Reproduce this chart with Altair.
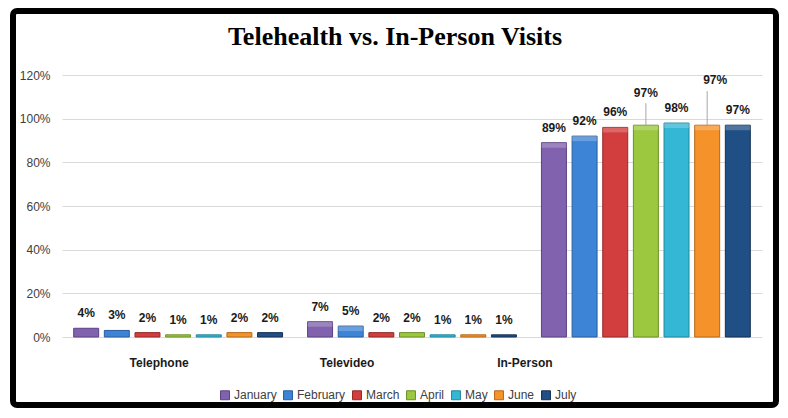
import altair as alt
import pandas as pd

# ---------------- data ----------------
categories = ["Telephone", "Televideo", "In-Person"]
months = ["January", "February", "March", "April", "May", "June", "July"]
telephone = [4, 3, 2, 1, 1, 2, 2]
televideo = [7, 5, 2, 2, 1, 1, 1]
in_person = [89, 92, 96, 97, 98, 97, 97]
y_ticks = [0, 0.2, 0.4, 0.6, 0.8, 1.0, 1.2]
chart_title = "Telehealth vs. In-Person Visits"

month_colors = ["#8162AE", "#3D84D6", "#D23D3D", "#9BC83F", "#33B7D4", "#F5922A", "#204F85"]
month_edges = ["#5B4283", "#285E9E", "#952929", "#6C8F27", "#22879D", "#B6681A", "#132F52"]

rows = []
for cat, vals in zip(categories, [telephone, televideo, in_person]):
    for m, v in zip(months, vals):
        rows.append({"category": cat, "month": m, "value": v / 100})
df = pd.DataFrame(rows)
cat_df = pd.DataFrame({"category": categories})
title_df = pd.DataFrame({"title": [chart_title]})
one_df = pd.DataFrame({"k": [0]})

FONT = "Liberation Sans, Arial, sans-serif"
W, H = 700, 262

x_enc = alt.X("category:N", sort=categories,
              scale=alt.Scale(paddingInner=0.107, paddingOuter=0.05), axis=None)
xo_enc = alt.XOffset("month:N", sort=months,
                     scale=alt.Scale(paddingInner=0.185, paddingOuter=0))
y_enc = alt.Y("value:Q", scale=alt.Scale(domain=[0, 1.2], nice=False),
              axis=alt.Axis(format=".0%", values=y_ticks, grid=True, domain=False,
                            ticks=False, tickSize=0, labelPadding=12, title=None,
                            labelFont=FONT, labelFontSize=12, labelColor="#404040",
                            gridColor="#D9D9D9", gridWidth=1))

base = alt.Chart(df)

bars = base.mark_bar(strokeWidth=1).encode(
    x=x_enc, xOffset=xo_enc, y=y_enc,
    color=alt.Color("month:N", sort=months,
                    scale=alt.Scale(domain=months, range=month_colors),
                    legend=alt.Legend(orient="none", legendX=157, legendY=314,
                                      direction="horizontal", title=None,
                                      symbolType="square", symbolSize=80,
                                      symbolStrokeWidth=1, labelFont=FONT,
                                      labelFontSize=12, labelColor="#404040",
                                      columnPadding=4, labelOffset=3)),
    stroke=alt.Stroke("month:N", sort=months,
                      scale=alt.Scale(domain=months, range=month_edges), legend=None),
)

highlight = base.transform_filter("datum.value >= 0.05").mark_bar(
    color="white", opacity=0.22, y2Offset=5
).encode(x=x_enc, xOffset=xo_enc, y=alt.Y("value:Q"), y2="value:Q")

is_april = "datum.category === 'In-Person' && datum.month === 'April'"
is_june = "datum.category === 'In-Person' && datum.month === 'June'"

label_common = dict(font=FONT, fontWeight="bold", fontSize=12, color="#1a1a1a",
                    baseline="alphabetic", align="center")
lab_enc = dict(x=x_enc, xOffset=xo_enc, y=alt.Y("value:Q"),
               text=alt.Text("value:Q", format=".0%"))

labels = base.transform_filter(f"!({is_april}) && !({is_june})").mark_text(
    dy=-11, **label_common).encode(**lab_enc)
labels_apr = base.transform_filter(is_april).mark_text(
    dy=-28, **label_common).encode(**lab_enc)
labels_jun = base.transform_filter(is_june).mark_text(
    dy=-41, dx=8, **label_common).encode(**lab_enc)

lead_apr = base.transform_filter(is_april).mark_rule(
    color="#A6A6A6", strokeWidth=1, yOffset=-22).encode(
    x=x_enc, xOffset=xo_enc, y=alt.Y("value:Q"), y2="value:Q")
lead_jun = base.transform_filter(is_june).mark_rule(
    color="#A6A6A6", strokeWidth=1, yOffset=-34).encode(
    x=x_enc, xOffset=xo_enc, y=alt.Y("value:Q"), y2="value:Q")

cat_labels = alt.Chart(cat_df).mark_text(
    font=FONT, fontWeight="bold", fontSize=12, color="#1a1a1a", baseline="middle",
    dx=alt.expr("datum.category === 'Telephone' ? -19 : "
                "datum.category === 'Televideo' ? -65 : -121"),
).encode(x=alt.X("category:N", sort=categories), y=alt.value(H + 26),
         text="category:N")

title = alt.Chart(title_df).mark_text(
    font="Liberation Serif, DejaVu Serif, serif", fontWeight="bold", fontSize=26,
    color="black", baseline="alphabetic", align="center",
).encode(x=alt.value(333), y=alt.value(-30), text="title:N")

frame = alt.Chart(one_df).mark_rect(
    fillOpacity=0, stroke="black", strokeWidth=6, cornerRadius=4
).encode(x=alt.value(-49), x2=alt.value(714), y=alt.value(-64), y2=alt.value(330))

chart = alt.layer(
    bars, highlight, lead_apr, lead_jun, labels, labels_apr, labels_jun,
    cat_labels, title, frame
).properties(
    width=W, height=H,
    padding={"left": 2, "top": 0, "right": 0, "bottom": 0},
    background="white",
).configure_view(stroke=None)

chart.save("out.html", embed_options={"renderer": "svg", "actions": False})
